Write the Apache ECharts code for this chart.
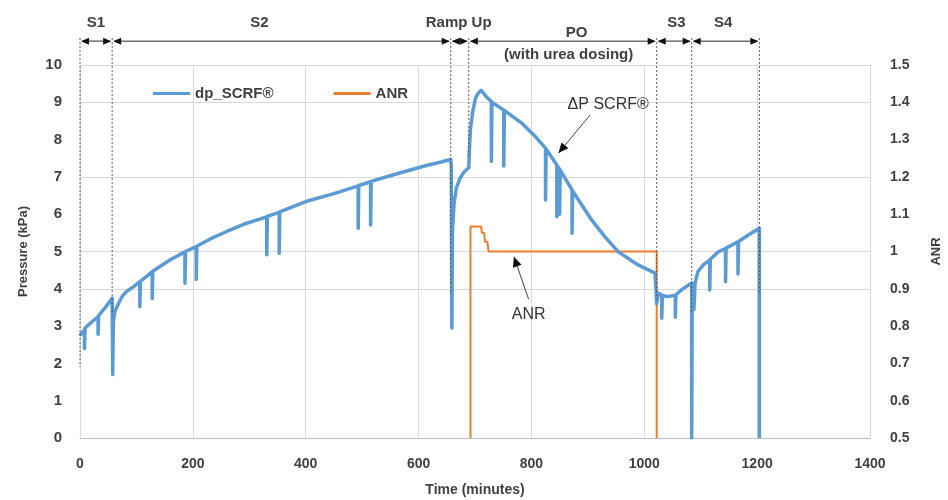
<!DOCTYPE html>
<html>
<head>
<meta charset="utf-8">
<title>SCRF pressure drop and ANR</title>
<script src="https://cdn.jsdelivr.net/npm/echarts@6/dist/echarts.min.js"></script>
<style>
  html, body { margin: 0; padding: 0; background: #fff; }
  #chart { width: 948px; height: 500px; }
</style>
</head>
<body>
<div id="chart"></div>
<script>
// dp_SCRF (kPa) against time (min).
// a time repeated three times is one of the short downward dips
var dpTime = [
  0, 3, 8, 8, 9, 20, 32, 32, 33, 45, 57, 58, 58, 59, 62, 68, 75, 82, 95,
  106, 106, 107, 118, 128, 128, 129, 141, 160, 186, 186, 187, 206, 206, 207,
  230, 259, 290, 331, 331, 332, 353, 353, 354, 400, 450, 493, 493, 494,
  515, 515, 516, 554, 612, 640, 657, 658, 659, 660, 663, 667, 673, 680, 689,
  690, 692, 696, 701, 706, 711, 720, 729, 729, 730, 751, 751, 752, 783, 807,
  825, 825, 826, 845, 845, 846, 850, 850, 851, 872, 872, 873, 907, 930, 954,
  989, 1019, 1022, 1022, 1025, 1031, 1031, 1032, 1042, 1055, 1055, 1056, 1066,
  1084, 1084, 1085, 1088, 1090, 1095, 1105, 1116, 1116, 1117, 1131, 1144, 1144,
  1145, 1166, 1166, 1167, 1185, 1204, 1204
];
var dpValue = [
  2.75, 2.78, 2.9, 2.4, 2.95, 3.1, 3.25, 2.78, 3.28, 3.5, 3.75, 3.7, 1.7, 3.1, 3.4, 3.6, 3.8, 3.92, 4.06,
  4.19, 3.52, 4.2, 4.33, 4.46, 3.74, 4.47, 4.59, 4.78, 4.99, 4.15, 5.0, 5.13, 4.25, 5.14,
  5.33, 5.53, 5.73, 5.93, 4.91, 5.94, 6.05, 4.95, 6.06, 6.34, 6.55, 6.76, 5.62, 6.77,
  6.87, 5.71, 6.88, 7.05, 7.3, 7.4, 7.47, 7.3, 2.95, 5.5, 6.3, 6.7, 6.95, 7.12, 7.25,
  7.7, 8.3, 8.75, 9.12, 9.25, 9.32, 9.15, 9.02, 7.41, 9.0, 8.79, 7.29, 8.78, 8.44, 8.08,
  7.77, 6.38, 7.75, 7.32, 5.93, 7.3, 7.2, 6.0, 7.18, 6.65, 5.49, 6.62, 5.84, 5.4, 4.99,
  4.64, 4.42, 4.37, 3.6, 3.88, 3.83, 3.21, 3.82, 3.79, 3.83, 3.24, 3.84, 3.97,
  4.16, 0, 3.9, 3.45, 4.15, 4.46, 4.65, 4.77, 3.97, 4.79, 4.99, 5.08, 4.19,
  5.09, 5.26, 4.4, 5.27, 5.45, 5.62, 0
];

// ANR (right axis)
var anrTime = [692, 692, 711, 712, 716, 718, 722, 724, 1022, 1022];
var anrValue = [0.5, 1.067, 1.067, 1.05, 1.05, 1.026, 1.026, 1.0, 1.0, 0.5];

// horizontal grid lines that are visible in the figure
var gridY = [4, 5, 7, 9, 10];

// test phases along the top
var phaseNames = ['S1', 'S2', 'Ramp Up', 'PO', 'S3', 'S4'];
var phaseBounds = [0, 57, 657, 689, 1022, 1084, 1204];
var boundBottom = [1.9, 3.2, 3.9, 7.5, 3.7, 3.35, 3.9];

// label placement (data units, above the plot)
var phaseLabelT = [28, 318, 671, 880, 1057, 1140];
var phaseLabelV = [11.12, 11.12, 11.12, 10.86, 11.12, 11.12];
var ARROW_V = 10.64;
var PO_NOTE = { text: '(with urea dosing)', t: 866, v: 10.27 };

// callouts inside the plot
var notes = [
  { text: 'ΔP SCRF®', t: 936, v: 8.93, from: [904, 8.66], to: [848, 7.64] },
  { text: 'ANR', t: 795, v: 3.3, from: [795, 3.72], to: [769, 4.86] }
];

var FONT = "'Liberation Sans', Arial, sans-serif";
var TXT = '#404040';

function zip(a, b) {
  return a.map(function (v, i) { return [v, b[i]]; });
}

function arrowHead(tip, back, len, half) {
  var dx = tip[0] - back[0], dy = tip[1] - back[1];
  var d = Math.sqrt(dx * dx + dy * dy) || 1;
  var ux = dx / d, uy = dy / d;
  var bx = tip[0] - ux * len, by = tip[1] - uy * len;
  return {
    type: 'polygon',
    shape: { points: [tip, [bx - uy * half, by + ux * half], [bx + uy * half, by - ux * half]] },
    style: { fill: '#111' }
  };
}

var chart = echarts.init(document.getElementById('chart'));

var option = {
  animation: false,
  grid: { left: 80, right: 78, top: 65, bottom: 62, containLabel: false, outerBoundsMode: 'none' },
  legend: {
    data: ['dp_SCRF®', 'ANR'],
    left: 148, top: 81,
    icon: 'rect', itemWidth: 37, itemHeight: 3, itemGap: 60,
    textStyle: { fontFamily: FONT, fontSize: 15, fontWeight: 'bold', color: TXT }
  },
  xAxis: {
    type: 'value', min: 0, max: 1400, interval: 200,
    name: 'Time (minutes)', nameLocation: 'middle', nameGap: 45,
    nameTextStyle: { fontFamily: FONT, fontSize: 14, fontWeight: 'bold', color: TXT },
    axisLine: { show: true, lineStyle: { color: '#bfbfbf' } },
    axisTick: { show: false },
    axisLabel: {
      margin: 19, fontFamily: FONT, fontSize: 14, fontWeight: 'bold', color: TXT,
      formatter: function (v) { return String(v); }
    },
    splitLine: { show: true, lineStyle: { color: '#d9d9d9', width: 1 } }
  },
  yAxis: [
    {
      type: 'value', min: 0, max: 10, interval: 1,
      name: 'Pressure (kPa)', nameLocation: 'middle', nameGap: 50, nameRotate: 90,
      nameTextStyle: { fontFamily: FONT, fontSize: 13, fontWeight: 'bold', color: TXT },
      axisLine: { show: true, lineStyle: { color: '#d9d9d9' } },
      axisTick: { show: false },
      axisLabel: { margin: 18, fontFamily: FONT, fontSize: 15, fontWeight: 'bold', color: TXT },
      splitLine: { show: false }
    },
    {
      type: 'value', position: 'right', min: 0.5, max: 1.5, interval: 0.1,
      name: 'ANR', nameLocation: 'middle', nameGap: 60, nameRotate: 90,
      nameTextStyle: { fontFamily: FONT, fontSize: 13, fontWeight: 'bold', color: TXT },
      axisLine: { show: false },
      axisTick: { show: false },
      axisLabel: {
        margin: 20, fontFamily: FONT, fontSize: 14, fontWeight: 'bold', color: TXT,
        formatter: function (v) { return String(+v.toFixed(1)); }
      },
      splitLine: { show: false }
    }
  ],
  series: [
    {
      name: 'gridlines', type: 'line', data: [], silent: true, z: 1,
      markLine: {
        silent: true, symbol: 'none', animation: false, z: 1,
        label: { show: false },
        lineStyle: { color: '#d9d9d9', type: 'solid', width: 1 },
        data: gridY.map(function (y) { return { yAxis: y }; })
      }
    },
    {
      name: 'ANR', type: 'line', yAxisIndex: 1, z: 2,
      data: zip(anrTime, anrValue),
      showSymbol: false, color: '#ed7d31',
      lineStyle: { color: '#ed7d31', width: 2 },
      itemStyle: { color: '#ed7d31' }
    },
    {
      name: 'dp_SCRF®', type: 'line', yAxisIndex: 0, z: 3,
      data: zip(dpTime, dpValue),
      showSymbol: false, color: '#5b9bd5',
      lineStyle: { color: '#5b9bd5', width: 3.5, join: 'round' },
      itemStyle: { color: '#5b9bd5' }
    },
    {
      name: 'bounds', type: 'custom', z: 4, silent: true,
      data: zip(phaseBounds, boundBottom),
      renderItem: function (params, api) {
        var top = api.coord([api.value(0), ARROW_V]);
        var bot = api.coord([api.value(0), api.value(1)]);
        return {
          type: 'line',
          shape: { x1: top[0], y1: top[1] - 3, x2: bot[0], y2: bot[1] },
          style: { stroke: '#555', lineWidth: 1, lineDash: [2, 2] }
        };
      }
    },
    {
      name: 'phases', type: 'custom', z: 5, silent: true,
      data: zip(phaseLabelT, phaseLabelV),
      renderItem: function (params, api) {
        var i = params.dataIndex;
        var a = api.coord([phaseBounds[i], ARROW_V]);
        var b = api.coord([phaseBounds[i + 1], ARROW_V]);
        var t = api.coord([phaseLabelT[i], phaseLabelV[i]]);
        var kids = [
          { type: 'line', shape: { x1: a[0] + 2, y1: a[1], x2: b[0] - 2, y2: b[1] },
            style: { stroke: '#6f6f6f', lineWidth: 1.5 } },
          arrowHead([a[0] + 1, a[1]], b, 8, 3.5),
          arrowHead([b[0] - 1, b[1]], a, 8, 3.5),
          { type: 'text', x: t[0], y: t[1],
            style: { text: phaseNames[i], align: 'center', verticalAlign: 'middle',
                     fontFamily: FONT, fontSize: 15, fontWeight: 'bold', fill: TXT } }
        ];
        if (phaseNames[i] === 'PO') {
          var n = api.coord([PO_NOTE.t, PO_NOTE.v]);
          kids.push({ type: 'text', x: n[0], y: n[1],
            style: { text: PO_NOTE.text, align: 'center', verticalAlign: 'middle',
                     fontFamily: FONT, fontSize: 15, fontWeight: 'bold', fill: TXT } });
        }
        return { type: 'group', children: kids };
      }
    },
    {
      name: 'notes', type: 'custom', z: 6, silent: true,
      data: notes.map(function (n) { return [n.t, n.v]; }),
      renderItem: function (params, api) {
        var n = notes[params.dataIndex];
        var p = api.coord([n.t, n.v]);
        var f = api.coord(n.from);
        var g = api.coord(n.to);
        return {
          type: 'group',
          children: [
            { type: 'line', shape: { x1: f[0], y1: f[1], x2: g[0], y2: g[1] },
              style: { stroke: '#404040', lineWidth: 1 } },
            arrowHead(g, f, 10, 4.5),
            { type: 'text', x: p[0], y: p[1],
              style: { text: n.text, align: 'center', verticalAlign: 'middle',
                       fontFamily: FONT, fontSize: 16, fill: '#333' } }
          ]
        };
      }
    }
  ]
};

chart.setOption(option);
</script>
</body>
</html>
